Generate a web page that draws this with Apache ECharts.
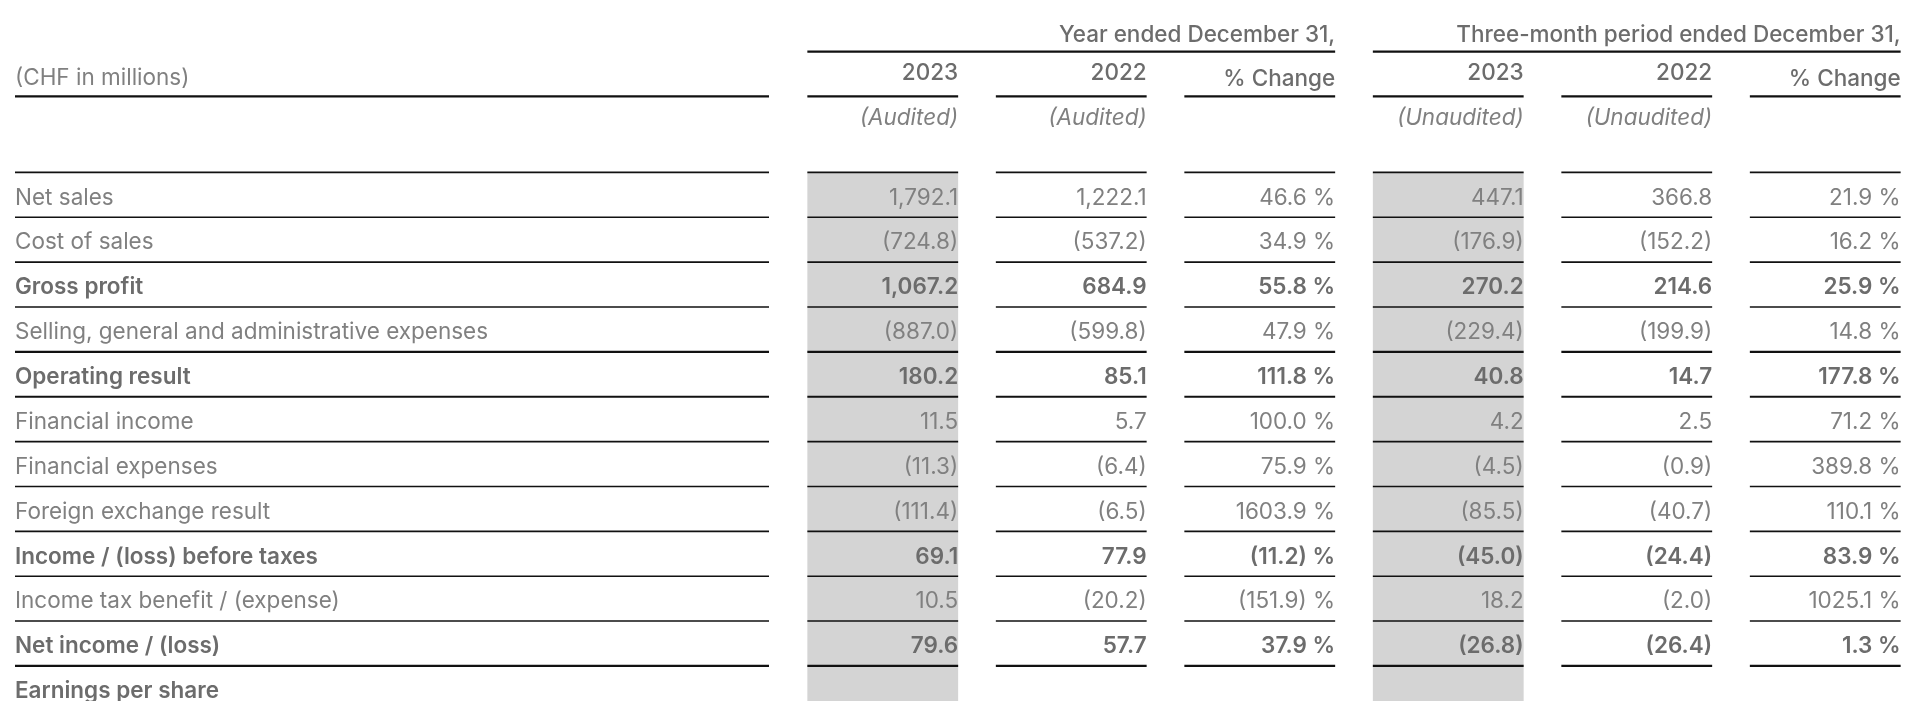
<!DOCTYPE html>
<html>
<head>
<meta charset="utf-8">
<style>
  html, body { margin: 0; padding: 0; background: #fff; }
  #chart { width: 1920px; height: 701px; }
</style>
<script src="https://cdn.jsdelivr.net/npm/echarts@6/dist/echarts.min.js"></script>
</head>
<body>
<div id="chart"></div>
<script>
// ---- data ----
const unitLabel = '(CHF in millions)';
const periodGroups = ['Year ended December 31,', 'Three-month period ended December 31,'];
const columnHeaders = ['2023', '2022', '% Change', '2023', '2022', '% Change'];
const auditNotes = ['(Audited)', '(Audited)', '', '(Unaudited)', '(Unaudited)', ''];

const rowLabels = [
  'Net sales',
  'Cost of sales',
  'Gross profit',
  'Selling, general and administrative expenses',
  'Operating result',
  'Financial income',
  'Financial expenses',
  'Foreign exchange result',
  'Income / (loss) before taxes',
  'Income tax benefit / (expense)',
  'Net income / (loss)',
  'Earnings per share'
];
const boldRows = ['Gross profit', 'Operating result', 'Income / (loss) before taxes', 'Net income / (loss)', 'Earnings per share'];

const year2023 = [1792.1, -724.8, 1067.2, -887.0, 180.2, 11.5, -11.3, -111.4, 69.1, 10.5, 79.6, null];
const year2022 = [1222.1, -537.2, 684.9, -599.8, 85.1, 5.7, -6.4, -6.5, 77.9, -20.2, 57.7, null];
const yearChange = [46.6, 34.9, 55.8, 47.9, 111.8, 100.0, 75.9, 1603.9, -11.2, -151.9, 37.9, null];
const quarter2023 = [447.1, -176.9, 270.2, -229.4, 40.8, 4.2, -4.5, -85.5, -45.0, 18.2, -26.8, null];
const quarter2022 = [366.8, -152.2, 214.6, -199.9, 14.7, 2.5, -0.9, -40.7, -24.4, -2.0, -26.4, null];
const quarterChange = [21.9, 16.2, 25.9, 14.8, 177.8, 71.2, 389.8, 110.1, 83.9, 1025.1, 1.3, null];

// ---- helpers ----
const FONT = 'Inter, "Noto Sans", sans-serif';
const SIZE = 22.5;
const TEXT = '#808080';
const TEXT_BOLD = '#6c6c6c';
const RULE = '#111111';
const SHADE = '#d4d4d4';

function num(v, grouping) {
  return Math.abs(v).toLocaleString('en-US', { minimumFractionDigits: 1, maximumFractionDigits: 1, useGrouping: grouping });
}
function amount(v) {
  if (v == null) return '';
  return v < 0 ? '(' + num(v, true) + ')' : num(v, true);
}
function pct(v) {
  if (v == null) return '';
  return (v < 0 ? '(' + num(v, false) + ')' : num(v, false)) + ' %';
}

const bodyColumns = [
  { values: year2023, fmt: amount, shaded: true },
  { values: year2022, fmt: amount },
  { values: yearChange, fmt: pct },
  { values: quarter2023, fmt: amount, shaded: true },
  { values: quarter2022, fmt: amount },
  { values: quarterChange, fmt: pct }
];

const thickRows = [4, 5, 11];
function ruleWidth(r) { return thickRows.indexOf(r) >= 0 ? 2.2 : 1.6; }
function isBold(r) { return boldRows.indexOf(rowLabels[r]) >= 0; }
function textStyle(text, align, weight, color) {
  return {
    text, align, verticalAlign: 'middle',
    fontFamily: FONT, fontSize: SIZE, fontWeight: weight, fill: color
  };
}
function bodyStyle(text, align, r) {
  return isBold(r) ? textStyle(text, align, 600, TEXT_BOLD) : textStyle(text, align, 400, TEXT);
}

const cells = [];
bodyColumns.forEach((col, c) => {
  rowLabels.forEach((label, r) => {
    cells.push([c, r, col.fmt(col.values[r])]);
  });
});

const CELL_RATIO = 0.8;

function renderCell(params, api) {
  const c = api.value(0), r = api.value(1);
  const pt = api.coord([c, r]);
  const size = api.size([1, 1]);
  const half = size[0] * CELL_RATIO / 2;
  const x0 = pt[0] - half, x1 = pt[0] + half, top = pt[1] - size[1] / 2;
  const children = [];
  if (bodyColumns[c].shaded) {
    children.push({ type: 'rect', shape: { x: x0, y: top, width: x1 - x0, height: size[1] }, style: { fill: SHADE } });
  }
  children.push({ type: 'line', shape: { x1: x0, y1: top, x2: x1, y2: top }, style: { stroke: RULE, lineWidth: ruleWidth(r) } });
  children.push({ type: 'text', x: x1, y: pt[1] + 3, style: bodyStyle(cells[params.dataIndex][2], 'right', r) });
  return { type: 'group', children };
}

function renderRowLabel(params, api) {
  const r = api.value(1);
  const pt = api.coord([0, r]);
  const size = api.size([1, 1]);
  const x0 = pt[0] - size[0] / 2, x1 = pt[0] + size[0] / 2, top = pt[1] - size[1] / 2;
  return {
    type: 'group',
    children: [
      { type: 'line', shape: { x1: x0, y1: top, x2: x1, y2: top }, style: { stroke: RULE, lineWidth: ruleWidth(r) } },
      { type: 'text', x: x0, y: pt[1] + 3, style: bodyStyle(rowLabels[r], 'left', r) }
    ]
  };
}

// header: row 0 = period group, row 1 = column headers, row 2 = audit notes
const headerCells = [];
columnHeaders.forEach((h, c) => headerCells.push([c, 1, h]));
auditNotes.forEach((h, c) => headerCells.push([c, 2, h]));
periodGroups.forEach((g, i) => headerCells.push([i * 3 + 2, 0, g]));

function renderHeader(params, api) {
  const c = api.value(0), r = api.value(1);
  const text = headerCells[params.dataIndex][2];
  const pt = api.coord([c, r]);
  const size = api.size([1, 1]);
  const half = size[0] * CELL_RATIO / 2;
  const x1 = pt[0] + half, bottom = pt[1] + size[1] / 2;
  if (r === 0) {
    const left = api.coord([c - 2, r])[0] - half;
    return {
      type: 'group',
      children: [
        { type: 'line', shape: { x1: left, y1: bottom, x2: x1, y2: bottom }, style: { stroke: RULE, lineWidth: 2.2 } },
        { type: 'text', x: x1, y: pt[1] + 6, style: textStyle(text, 'right', 500, TEXT_BOLD) }
      ]
    };
  }
  if (r === 1) {
    const pctHead = text.indexOf('%') >= 0;
    return {
      type: 'group',
      children: [
        { type: 'line', shape: { x1: pt[0] - half, y1: bottom, x2: x1, y2: bottom }, style: { stroke: RULE, lineWidth: 2.2 } },
        { type: 'text', x: x1, y: pt[1] + (pctHead ? 5 : -1), style: textStyle(text, 'right', 500, TEXT_BOLD) }
      ]
    };
  }
  const s = textStyle(text, 'right', 400, TEXT);
  s.fontStyle = 'italic';
  return { type: 'text', x: x1, y: pt[1], style: s };
}

function renderUnit(params, api) {
  const pt = api.coord([0, 1]);
  const size = api.size([1, 1]);
  const x0 = pt[0] - size[0] / 2, x1 = pt[0] + size[0] / 2, bottom = pt[1] + size[1] / 2;
  return {
    type: 'group',
    children: [
      { type: 'line', shape: { x1: x0, y1: bottom, x2: x1, y2: bottom }, style: { stroke: RULE, lineWidth: 2.2 } },
      { type: 'text', x: x0, y: pt[1] + 4, style: textStyle(unitLabel, 'left', 400, TEXT) }
    ]
  };
}

const headerRows = ['group', 'column', 'note'];
const hiddenCat = (data) => ({ type: 'category', data, show: false });

const chart = echarts.init(document.getElementById('chart'), null, { renderer: 'canvas' });
chart.setOption({
  animation: false,
  grid: [
    { left: 15, width: 754, top: 7, height: 134, outerBoundsMode: 'none' },
    { left: 788.5, width: 1131, top: 7, height: 134, outerBoundsMode: 'none' },
    { left: 15, width: 754, top: 172.4, height: 538.4, outerBoundsMode: 'none' },
    { left: 788.5, width: 1131, top: 172.4, height: 538.4, outerBoundsMode: 'none' }
  ],
  xAxis: [
    Object.assign(hiddenCat(['label']), { gridIndex: 0 }),
    Object.assign(hiddenCat(columnHeaders.map((h, i) => i)), { gridIndex: 1 }),
    Object.assign(hiddenCat(['label']), { gridIndex: 2 }),
    Object.assign(hiddenCat(columnHeaders.map((h, i) => i)), { gridIndex: 3 })
  ],
  yAxis: [
    Object.assign(hiddenCat(headerRows), { gridIndex: 0, inverse: true }),
    Object.assign(hiddenCat(headerRows), { gridIndex: 1, inverse: true }),
    Object.assign(hiddenCat(rowLabels), { gridIndex: 2, inverse: true }),
    Object.assign(hiddenCat(rowLabels), { gridIndex: 3, inverse: true })
  ],
  series: [
    { type: 'custom', xAxisIndex: 0, yAxisIndex: 0, renderItem: renderUnit, data: [[0, 1]] },
    { type: 'custom', xAxisIndex: 1, yAxisIndex: 1, renderItem: renderHeader, data: headerCells.map(d => [d[0], d[1]]) },
    { type: 'custom', xAxisIndex: 2, yAxisIndex: 2, renderItem: renderRowLabel, data: rowLabels.map((l, r) => [0, r]) },
    { type: 'custom', xAxisIndex: 3, yAxisIndex: 3, renderItem: renderCell, data: cells.map(d => [d[0], d[1]]) }
  ]
});
</script>
</body>
</html>
